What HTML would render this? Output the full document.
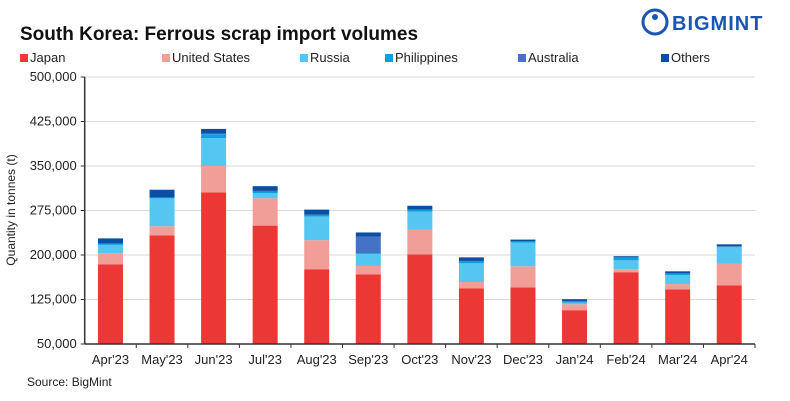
<!DOCTYPE html>
<html><head><meta charset="utf-8"><style>
body{margin:0;background:#fff;font-family:"Liberation Sans",Arial,sans-serif;}
#wrap{position:relative;width:790px;height:401px;overflow:hidden;}
</style></head><body>
<div id="wrap">
<svg id="chart" width="790" height="401"></svg>
</div>
<script>
const categories=["Apr'23","May'23","Jun'23","Jul'23","Aug'23","Sep'23","Oct'23","Nov'23","Dec'23","Jan'24","Feb'24","Mar'24","Apr'24"];
const seriesNames=["Japan","United States","Russia","Philippines","Australia","Others"];
const japan=[184000,233000,305500,249500,176000,167500,201000,144000,145500,107000,171000,142000,149000];
const unitedStates=[19000,15500,44500,46000,49000,14000,42000,10500,35500,10000,5000,9000,36000];
const russia=[14000,47000,47000,8500,40000,20000,30000,31500,40000,3000,15000,15000,28000];
const philippines=[2500,1500,6500,3000,3000,1500,3500,4000,1000,2000,4000,3000,1000];
const australia=[0,0,1000,1000,0,28000,0,0,1000,0,1000,0,500];
const others=[8500,13000,8000,8000,8500,7000,6500,6000,3000,3500,2000,3500,3500];
const yTicks=[50000,125000,200000,275000,350000,425000,500000];
const colors=["#ec3834","#f09e97","#55c5f2","#0e9fdd","#4472c4","#0a4fa3"];
const series=[japan,unitedStates,russia,philippines,australia,others];

const NS="http://www.w3.org/2000/svg";
const svg=document.getElementById('chart');
const L=84.7,R=755,T=77,B=344,ymin=50000,ymax=500000;
const step=(R-L)/categories.length,bw=25;
function y(v){return B-(v-ymin)/(ymax-ymin)*(B-T);}
function x(i){return L+step*(i+0.5);}
function el(t,a){const e=document.createElementNS(NS,t);for(const k in a)e.setAttribute(k,a[k]);svg.appendChild(e);return e;}
function txt(s,a){const e=el('text',a);e.textContent=s;return e;}

let t=txt('South Korea: Ferrous scrap import volumes',{x:20,y:40,'font-size':19,'font-weight':'bold',fill:'#111'});



let c=el('circle',{cx:655,cy:22,r:12,fill:'none',stroke:'#1a56b0','stroke-width':3});


let c2=el('circle',{cx:655,cy:17,r:3,fill:'#1a56b0'});


let lt=txt('BIGMINT',{x:672,y:30,'font-size':20,'font-weight':'bold',fill:'#1a56b0','letter-spacing':'1'});



const lx=[20,162,300,385,518,661];
seriesNames.forEach((n,i)=>{
  let r=el('rect',{x:lx[i],y:54,width:8,height:8,fill:colors[i]});
  
  
  let tt=txt(n,{x:lx[i]+10,y:62,'font-size':13,fill:'#222'});
  
  
});

yTicks.forEach(v=>{
  if(v>ymin){let g=el('line',{x1:L,x2:R,y1:y(v),y2:y(v),stroke:'#d9d9d9','stroke-width':1});
  
  }
  let tk=el('line',{x1:L-4,x2:L,y1:y(v),y2:y(v),stroke:'#333'});
  
  
  let lb=txt(v.toLocaleString('en-US'),{x:L-8,y:y(v)+4,'font-size':13,'text-anchor':'end',fill:'#222'});
  
  
});
let yt=txt('Quantity in tonnes (t)',{x:0,y:0,'font-size':12,fill:'#222','text-anchor':'middle',transform:'translate(15,210) rotate(-90)'});



categories.forEach((cat,i)=>{
  let base=0;
  series.forEach((s,k)=>{
    const v=s[i]; if(v<=0)return;
    const y0=base===0?B:y(base), y1=y(base+v);
    let b=el('rect',{x:x(i)-bw/2,y:y1,width:bw,height:Math.max(0,y0-y1),fill:colors[k]});
    
    
    base+=v;
  });
  let tk=el('line',{x1:L+step*(i+1),x2:L+step*(i+1),y1:B,y2:B+4,stroke:'#333'});
  
  
  let lb=txt(cat,{x:x(i),y:B+20,'font-size':13,'text-anchor':'middle',fill:'#222'});
  
  
});
let ax=el('line',{x1:L,x2:R,y1:B,y2:B,stroke:'#333','stroke-width':1.5});


let ay=el('line',{x1:L,x2:L,y1:T,y2:B,stroke:'#333','stroke-width':1.5});


let src=txt('Source: BigMint',{x:27,y:386,'font-size':12,fill:'#222'});


</script>
</body></html>
